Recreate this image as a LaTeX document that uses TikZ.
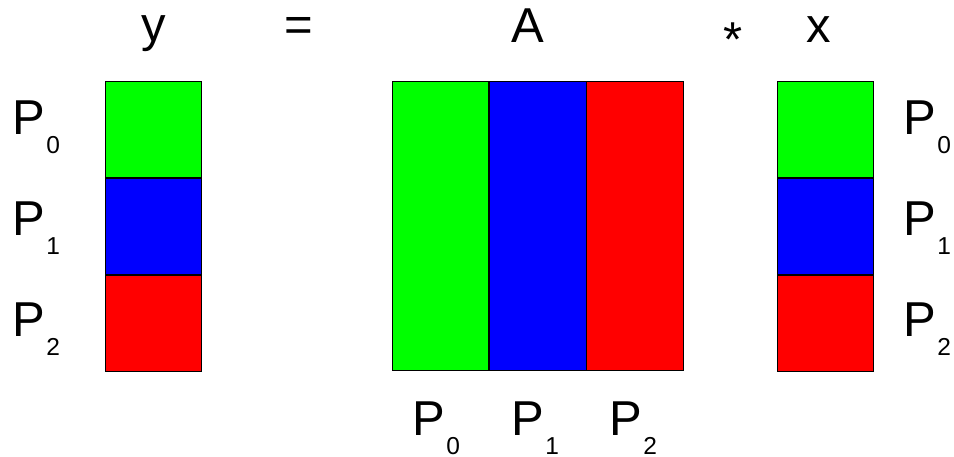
\documentclass[tikz,border=0pt]{standalone}
\usepackage{fontspec}
\setmainfont{Liberation Sans}
\usetikzlibrary{positioning}
\newcommand{\pname}[1]{P\kern1.5pt\raisebox{-19pt}{\fontsize{24.5}{25}\selectfont #1}}
\tikzset{
  cell/.style={draw=black,line width=0.8pt,minimum width=96.5pt,minimum height=96.3pt,inner sep=0pt},
  big/.style={font=\fontsize{49}{49}\selectfont,inner sep=0pt},
  plab/.style={big,anchor=base west},
}

\begin{document}
\begin{tikzpicture}[x=1pt,y=-1pt]
\useasboundingbox (0,0) rectangle (954,457);

% y vector
\node[cell,fill=green] (y0) at (153.5,129.2) {};
\node[cell,fill=blue,below=0pt of y0] (y1) {};
\node[cell,fill=red,below=0pt of y1] (y2) {};

% matrix A, split in columns
\node[cell,fill=green,minimum height=289pt] (a0) at (440.5,225.5) {};
\node[cell,fill=blue,minimum height=289pt,right=0pt of a0] (a1) {};
\node[cell,fill=red,minimum height=289pt,right=0pt of a1] (a2) {};

% x vector
\node[cell,fill=green] (x0) at (825.5,129.2) {};
\node[cell,fill=blue,below=0pt of x0] (x1) {};
\node[cell,fill=red,below=0pt of x1] (x2) {};

% top line
\node[big,anchor=base] (ty) at (154,42) {y};
\node[big,anchor=base] (teq) at (299,42) {=};
\node[big,anchor=base] (ta) at (528,43) {A};
\node[big,anchor=base] (tstar) at (733,57) {*};
\node[big,anchor=base] (tx) at (818.5,43) {x};

% process labels
\node[plab] (ly0) at (12,135) {\pname{0}};
\node[plab] (ly1) at (12,236) {\pname{1}};
\node[plab] (ly2) at (12,337) {\pname{2}};

\node[plab] (lx0) at (903,135) {\pname{0}};
\node[plab] (lx1) at (903,236) {\pname{1}};
\node[plab] (lx2) at (903,337) {\pname{2}};

\node[plab] (la0) at (412,435) {\pname{0}};
\node[plab] (la1) at (511,435) {\pname{1}};
\node[plab] (la2) at (609,435) {\pname{2}};

\end{tikzpicture}
\end{document}
